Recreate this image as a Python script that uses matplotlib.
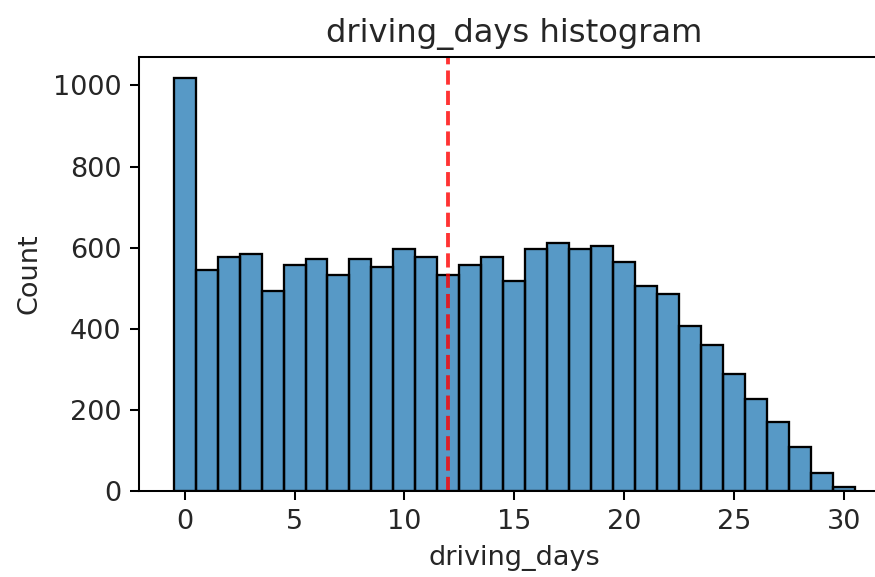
import matplotlib

matplotlib.use("Agg")
import matplotlib.pyplot as plt
import numpy as np

# driving_days value counts
days = np.arange(0, 31)
counts = [1019, 546, 577, 585, 494, 558, 572, 532, 572, 552, 597, 577, 532,
          558, 577, 519, 597, 611, 597, 604, 565, 505, 485, 407, 360, 289,
          228, 170, 109, 44, 11]
median_days = 12

plt.rcParams["text.color"] = "#262626"
plt.rcParams["axes.labelcolor"] = "#262626"
plt.rcParams["xtick.labelcolor"] = "#262626"
plt.rcParams["ytick.labelcolor"] = "#262626"

fig = plt.figure(figsize=(875 / 184, 577 / 184), dpi=184)
# axes runs slightly past the right edge, as in the cropped original
ax = fig.add_axes([0.1594, 0.149, 0.857, 0.752])

ax.bar(days, counts, width=1.0, color="#1f77b4", alpha=0.75, edgecolor="none")
ax.bar(days, counts, width=1.0, facecolor="none", edgecolor="black", linewidth=0.9)
ax.axvline(median_days, color="red", alpha=0.8, ls="--", lw=1.5)

ax.set_title("driving_days histogram", fontsize=12.6)
ax.set_xlabel("driving_days", fontsize=10.6)
ax.set_ylabel("Count", fontsize=10.6)
ax.tick_params(labelsize=10.6)

fig.savefig("out.png", dpi=184)
